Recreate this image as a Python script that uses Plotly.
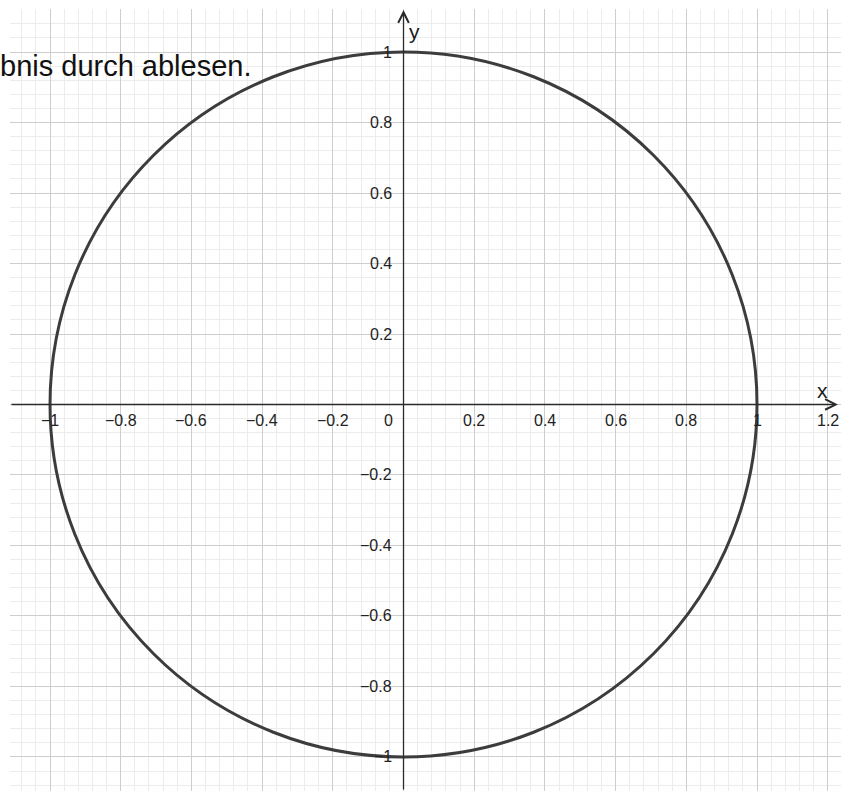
import plotly.graph_objects as go

# ---- data ----
circle_center = (0.0, 0.0)
circle_radius = 1.0
x_tick_values = [-1, -0.8, -0.6, -0.4, -0.2, 0, 0.2, 0.4, 0.6, 0.8, 1, 1.2]
x_tick_labels = ["\u22121", "\u22120.8", "\u22120.6", "\u22120.4", "\u22120.2", "0",
                 "0.2", "0.4", "0.6", "0.8", "1", "1.2"]
y_tick_values = [1, 0.8, 0.6, 0.4, 0.2, -0.2, -0.4, -0.6, -0.8, -1]
y_tick_labels = ["1", "0.8", "0.6", "0.4", "0.2", "\u22120.2", "\u22120.4", "\u22120.6",
                 "\u22120.8", "\u22121"]
caption_text = "bnis durch ablesen."

x_range = [-1.1132, 1.2376]
y_range = [-1.0965, 1.122]
x_axis_end = 1.229
y_axis_end = 1.119

fig = go.Figure()

# invisible trace to establish axes
fig.add_trace(go.Scatter(x=[x_range[0], x_range[1]], y=[y_range[0], y_range[1]],
                         mode="markers", marker=dict(opacity=0), hoverinfo="skip",
                         showlegend=False))

# the unit circle
fig.add_shape(type="circle", xref="x", yref="y",
              x0=circle_center[0] - circle_radius, y0=circle_center[1] - circle_radius,
              x1=circle_center[0] + circle_radius, y1=circle_center[1] + circle_radius,
              line=dict(color="#3c3c3c", width=3), layer="above")

axis_color = "#2a2a2a"
ann = []
# x axis with arrow
ann.append(dict(x=x_axis_end, y=0, ax=x_range[0], ay=0, xref="x", yref="y",
                axref="x", ayref="y", showarrow=True, arrowhead=5, arrowsize=1.6,
                arrowwidth=1.3, arrowcolor=axis_color, text=""))
# y axis with arrow
ann.append(dict(x=0, y=y_axis_end, ax=0, ay=y_range[0], xref="x", yref="y",
                axref="x", ayref="y", showarrow=True, arrowhead=5, arrowsize=1.6,
                arrowwidth=1.3, arrowcolor=axis_color, text=""))

tick_font = dict(family="Liberation Sans, Arial, sans-serif", size=16, color="#222222")
for v, t in zip(x_tick_values, x_tick_labels):
    xs = -15 if v == 0 else 0
    ann.append(dict(x=v, y=0, xref="x", yref="y", text=t, showarrow=False,
                    xanchor="center", yanchor="middle", xshift=xs, yshift=-16,
                    font=tick_font))
for v, t in zip(y_tick_values, y_tick_labels):
    ann.append(dict(x=0, y=v, xref="x", yref="y", text=t, showarrow=False,
                    xanchor="right", yanchor="middle", xshift=-10, yshift=0,
                    font=tick_font))

# axis names
name_font = dict(family="Liberation Sans, Arial, sans-serif", size=21, color="#1a1a1a")
ann.append(dict(x=1.2, y=0, xref="x", yref="y", text="x", showarrow=False,
                xanchor="center", yanchor="middle", xshift=-5, yshift=14, font=name_font))
ann.append(dict(x=0, y=1.1, xref="x", yref="y", text="y", showarrow=False,
                xanchor="center", yanchor="middle", xshift=11, yshift=-15, font=name_font))

# caption text (cut off at the left)
ann.append(dict(x=-12 / 831, y=1 - 57 / 782, xref="paper", yref="paper", text=caption_text,
                showarrow=False, xanchor="left", yanchor="middle",
                font=dict(family="Liberation Sans, Arial, sans-serif", size=29, color="#111111")))

grid_axis = dict(range=None, showgrid=True, gridcolor="#cdcdcd", gridwidth=1.3,
                 tick0=0, dtick=0.2, showticklabels=False, zeroline=False,
                 showline=False, ticks="",
                 minor=dict(showgrid=True, tick0=0, dtick=0.04, gridcolor="#ececec",
                            gridwidth=1))

xa = dict(grid_axis); xa["range"] = x_range
ya = dict(grid_axis); ya["range"] = y_range

fig.update_layout(
    width=851, height=791,
    margin=dict(l=10, r=10, t=9, b=0),
    paper_bgcolor="white", plot_bgcolor="white",
    xaxis=xa, yaxis=ya,
    annotations=ann,
    showlegend=False,
)

fig.write_html("out.html", config={"displayModeBar": False},
               post_script="document.body.style.margin='0';document.body.style.overflow='hidden';")
